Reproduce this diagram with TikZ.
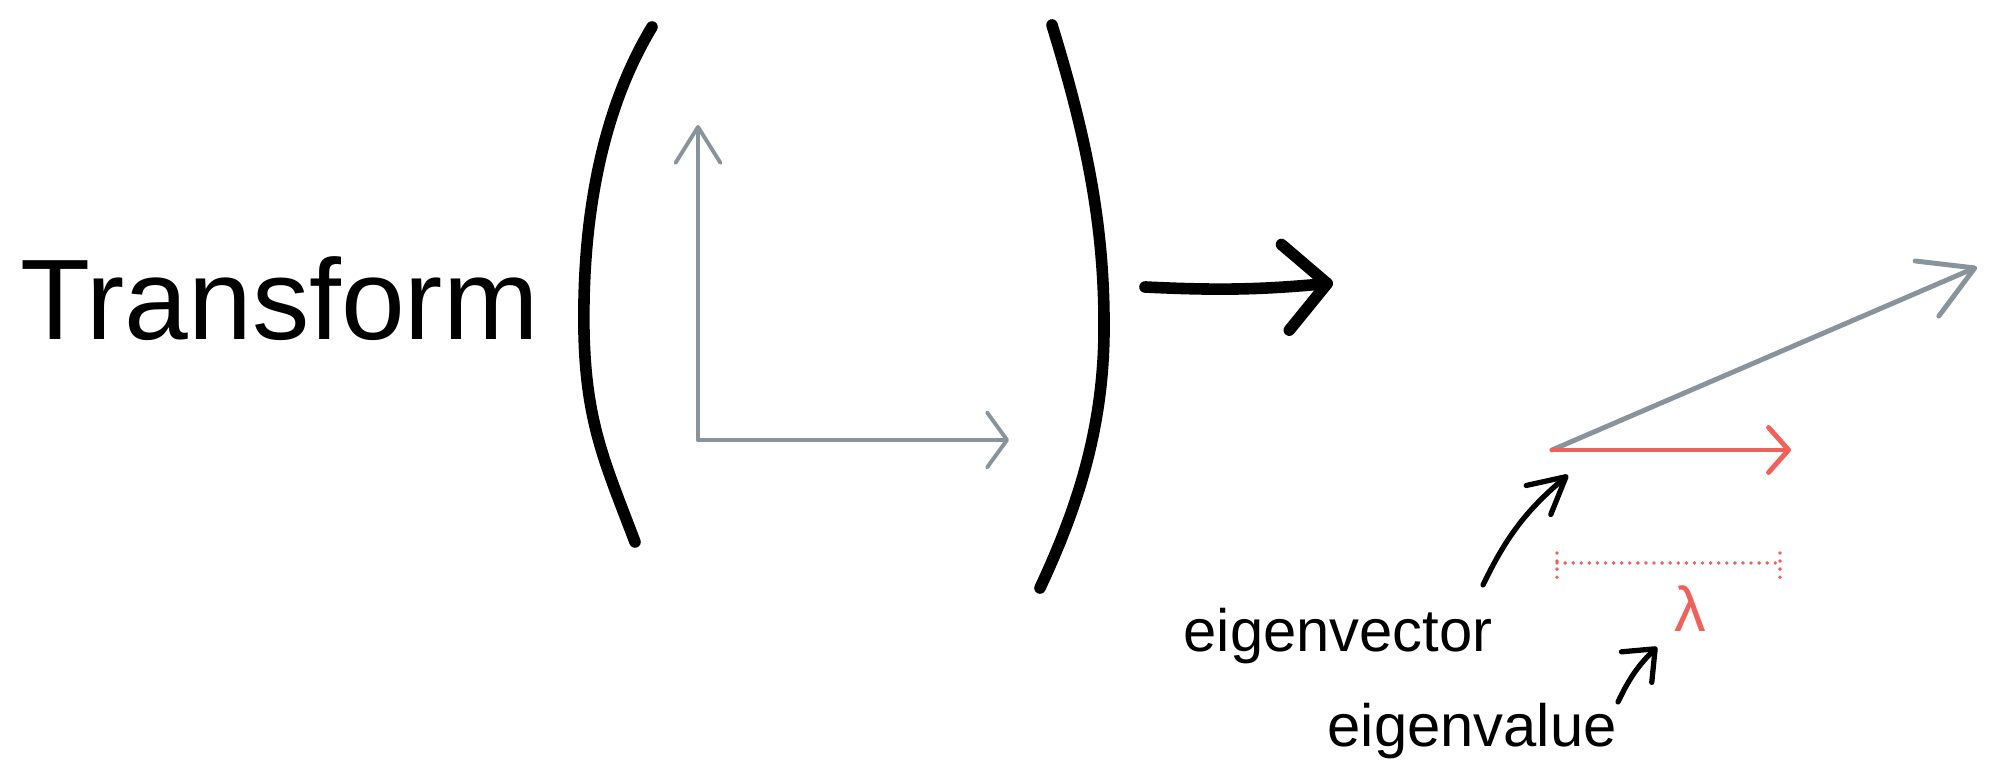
\documentclass[tikz,border=0pt]{standalone}
\usepackage{fontspec}
\setmainfont{Liberation Sans}
\usepackage{tikz}
\usetikzlibrary{arrows.meta,positioning}
\definecolor{sketchgray}{RGB}{136,147,156}
\definecolor{sketchred}{RGB}{242,96,90}
\tikzset{
    % Hand-drawn brackets and the big arrow
    paren/.style={line width=3.3pt, black, line cap=round, line join=round},
    bigarrow/.style={line width=3.3pt, black, line cap=round,
        -{Straight Barb[length=0.42cm, width=0.86cm, round]}},
    % Vectors
    axisedge/.style={line width=1.1pt, sketchgray, line cap=round},
    grayvec/.style={line width=1.4pt, sketchgray, line cap=round,
        -{Straight Barb[length=0.52cm, width=0.6cm, round]}},
    redvec/.style={line width=1.4pt, sketchred, line cap=round,
        -{Straight Barb[length=0.2cm, width=0.45cm, round]}},
    % Dotted length marker
    scalebar/.style={line width=1.1pt, sketchred, line cap=round,
        dash pattern=on 0pt off 2.3pt},
    % Label pointers
    pointer/.style={line width=1.5pt, black, line cap=round},
    % Text
    bigtext/.style={inner sep=0pt, anchor=base west, font=\fontsize{32.6}{38}\selectfont},
    labeltext/.style={inner sep=0pt, anchor=base west, font=\fontsize{17}{20}\selectfont},
    lambdatext/.style={inner sep=0pt, text=sketchred, font=\fontsize{18}{22}\selectfont},
}

\begin{document}
\begin{tikzpicture}
  \useasboundingbox (0,0) rectangle (20,7.83);
  \node[bigtext] (title) at (0.20,4.43) {Transform};
  % brackets
  \draw[paren] (6.52,7.56) .. controls (6.0,6.7) and (5.82,5.6) .. (5.84,4.5)
    .. controls (5.86,3.6) and (6.05,3.2) .. (6.35,2.41);
  \draw[paren] (10.52,7.58) .. controls (10.85,6.5) and (11.05,5.6) .. (11.04,4.5)
    .. controls (11.03,3.5) and (10.75,2.7) .. (10.40,1.95);
  % basis vectors
  \coordinate (o) at (6.98,3.43);
  \coordinate (ytip) at (6.98,6.58);
  \coordinate (xtip) at (10.09,3.43);
  \draw[axisedge,-{Straight Barb[length=0.36cm, width=0.45cm, round]}] (o)--(ytip);
  \draw[axisedge,-{Straight Barb[length=0.2cm, width=0.55cm, round]}] (o)--(xtip);
  % maps to
  \coordinate (mapfrom) at (11.45,4.96);
  \coordinate (mapto) at (13.33,5.00);
  \draw[bigarrow] (mapfrom) to[bend right=4] (mapto);
  % transformed vectors
  \coordinate (v) at (15.52,3.33);
  \coordinate (vtip) at (19.77,5.16);
  \coordinate (etip) at (17.91,3.33);
  \draw[grayvec] (v)--(vtip);
  \draw[redvec] (v)--(etip);
  % scale
  \coordinate (sa) at (15.57,2.20);
  \coordinate (sb) at (17.80,2.20);
  \draw[scalebar] (sa)--(sb);
  \draw[scalebar] ([yshift=0.10cm]sa)--([yshift=-0.15cm]sa);
  \draw[scalebar] ([yshift=0.10cm]sb)--([yshift=-0.15cm]sb);
  \node[lambdatext] (lam) at (16.90,1.74) {λ};
  % labels
  \node[labeltext] (evec) at (11.83,1.31) {eigenvector};
  \node[labeltext] (eval) at (13.27,0.36) {eigenvalue};
  \coordinate (evecfrom) at (14.83,1.98);
  \coordinate (evecto) at (15.68,3.08);
  \coordinate (evalfrom) at (16.18,0.81);
  \coordinate (evalto) at (16.57,1.36);
  \draw[pointer,-{Straight Barb[length=0.36cm, width=0.38cm, round]}] (evecfrom) to[bend left=12] (evecto);
  \draw[pointer,-{Straight Barb[length=0.26cm, width=0.43cm, round]}] (evalfrom) to[bend left=10] (evalto);
\end{tikzpicture}
\end{document}
